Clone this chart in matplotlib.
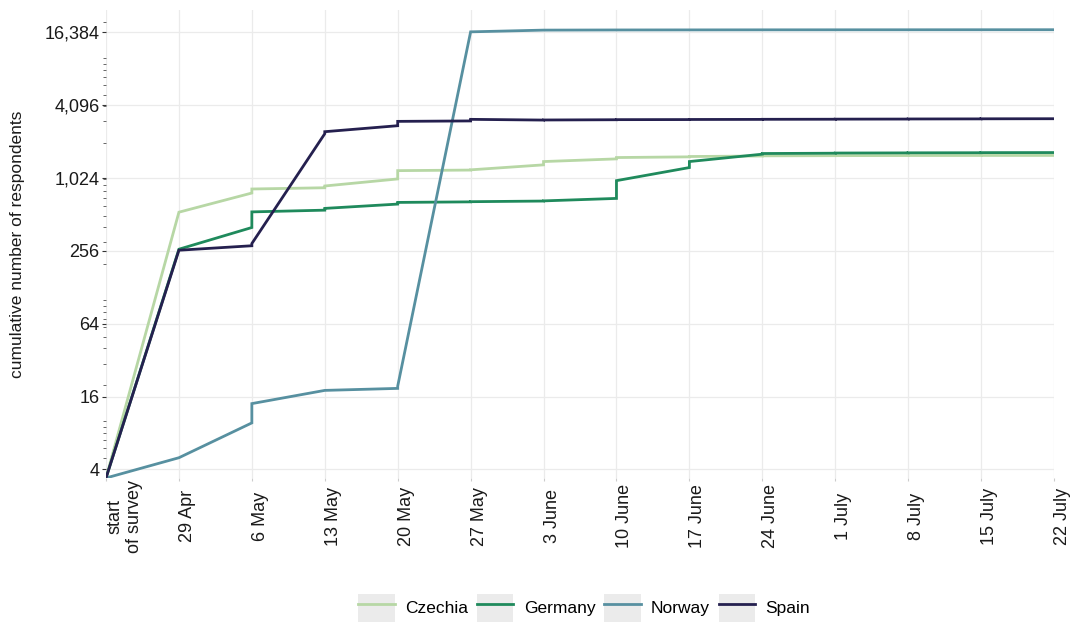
import numpy as np
import matplotlib
matplotlib.use("Agg")
import matplotlib.pyplot as plt
from matplotlib.ticker import FixedLocator, LogLocator, NullFormatter
from matplotlib.patches import Rectangle
from matplotlib.lines import Line2D
from matplotlib.legend_handler import HandlerTuple

plt.rcParams['font.family'] = ['Liberation Sans', 'DejaVu Sans']

# weekly checkpoints since the survey started
week_labels = ["start\nof survey", "29 Apr", "6 May", "13 May", "20 May", "27 May",
               "3 June", "10 June", "17 June", "24 June", "1 July", "8 July",
               "15 July", "22 July"]

# cumulative respondents just before / just after each weekly checkpoint
czechia_before = [3.4, 534, 769, 850, 1005, 1190, 1314, 1472, 1530, 1555, 1565, 1568, 1570, 1572]
czechia_after = [3.4, 534, 830, 879, 1177, 1195, 1399, 1510, 1540, 1560, 1566, 1569, 1571, 1572]
germany_before = [3.4, 264, 399, 555, 623, 650, 660, 694, 1248, 1610, 1640, 1650, 1655, 1660]
germany_after = [3.4, 264, 537, 574, 643, 652, 662, 973, 1399, 1630, 1645, 1652, 1658, 1660]
norway_before = [3.4, 5.0, 9.7, 18, 18.7, 16500, 17050, 17100, 17120, 17140, 17150, 17160, 17170, 17180]
norway_after = [3.4, 5.0, 14, 18, 19.5, 16500, 17050, 17100, 17120, 17140, 17150, 17160, 17170, 17180]
spain_before = [3.4, 259, 282, 2376, 2767, 3030, 3080, 3100, 3110, 3120, 3130, 3140, 3150, 3160]
spain_after = [3.4, 259, 294, 2469, 3005, 3123, 3085, 3105, 3115, 3125, 3135, 3145, 3155, 3160]

countries = ["Czechia", "Germany", "Norway", "Spain"]
colors = ["#b7d7a5", "#1f8a5c", "#5790a0", "#25204f"]
series = [(czechia_before, czechia_after), (germany_before, germany_after),
          (norway_before, norway_after), (spain_before, spain_after)]

y_ticks = [4, 16, 64, 256, 1024, 4096, 16384]


def step_path(before, after):
    xs, ys = [], []
    for i, (b, a) in enumerate(zip(before, after)):
        xs += [i, i]
        ys += [b, a]
    return xs, ys


fig = plt.figure(figsize=(10.7, 6.23), dpi=100)
ax = fig.add_axes([106 / 1070, 1 - 478 / 623, (1054 - 106) / 1070, (478 - 10) / 623])

handles = []
for name, col, (b, a) in zip(countries, colors, series):
    xs, ys = step_path(b, a)
    ax.plot(xs, ys, color=col, lw=2.0, solid_joinstyle='miter', zorder=3)
    key_bg = Rectangle((0, 0), 1, 1, facecolor="#ebebeb", edgecolor="none")
    key_line = Line2D([], [], color=col, lw=2.0)
    handles.append((key_bg, key_line))

ax.set_yscale('log', base=2)
ax.set_ylim(3.4, 25000)
ax.set_xlim(0, 13)

ax.yaxis.set_major_locator(FixedLocator(y_ticks))
ax.set_yticklabels([f"{v:,}" for v in y_ticks])
ax.yaxis.set_minor_locator(LogLocator(base=10, subs=np.arange(1, 10), numticks=20))
ax.yaxis.set_minor_formatter(NullFormatter())

ax.set_xticks(range(len(week_labels)))
ax.set_xticklabels(week_labels)
for lab in ax.get_xticklabels():
    lab.set_rotation(90)
    lab.set_ha('left')
    lab.set_va('center')
    lab.set_multialignment('center')

ax.tick_params(axis='x', length=2.5, width=0.8, color="#cccccc", pad=25,
               labelsize=13, labelcolor="#1a1a1a")
ax.tick_params(axis='y', which='major', length=3, width=0.8, color="#333333",
               labelsize=13, labelcolor="#1a1a1a", pad=1.5)
ax.tick_params(axis='y', which='minor', length=2, width=0.7, color="#666666")

ax.grid(True, which='major', color="#ebebeb", lw=0.9, zorder=0)
ax.set_axisbelow(True)
for sp in ax.spines.values():
    sp.set_visible(False)

ax.set_ylabel("cumulative number of respondents", fontsize=12.5, color="#1a1a1a", labelpad=14)

fig.legend(handles, countries, handler_map={tuple: HandlerTuple(ndivide=1)},
           loc='lower center', bbox_to_anchor=(0.546, -0.012), ncol=4, frameon=False,
           fontsize=12.5, handlelength=2.1, handleheight=2.1, handletextpad=0.6,
           columnspacing=0.5, borderpad=0)

fig.savefig("out.png", dpi=100)
